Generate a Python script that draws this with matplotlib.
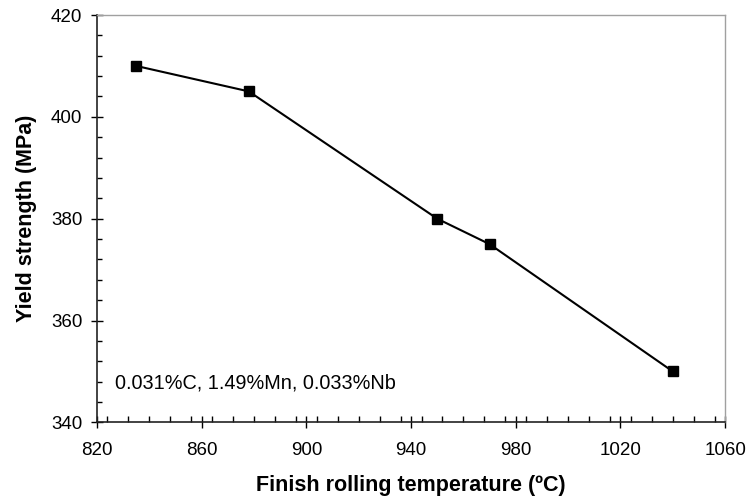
import matplotlib.pyplot as plt
from matplotlib.ticker import MultipleLocator

plt.rcParams['font.family'] = ['Liberation Sans', 'DejaVu Sans']

temperature = [835, 878, 950, 970, 1040]
yield_strength = [410, 405, 380, 375, 350]
x_ticks = [820, 860, 900, 940, 980, 1020, 1060]
y_ticks = [340, 360, 380, 400, 420]
note = "0.031%C, 1.49%Mn, 0.033%Nb"

fig = plt.figure(figsize=(7.46, 5.01), dpi=100)
ax = fig.add_axes([0.130, 0.157, 0.842, 0.813])

ax.plot(temperature, yield_strength, color='black', lw=1.5,
        marker='s', markersize=7, markerfacecolor='black', markeredgecolor='black')

ax.set_xlim(820, 1060)
ax.set_ylim(340, 420)
ax.set_xticks(x_ticks)
ax.set_yticks(y_ticks)
ax.xaxis.set_minor_locator(MultipleLocator(8))
ax.yaxis.set_minor_locator(MultipleLocator(4))

ax.tick_params(axis='x', which='major', direction='inout', length=8, width=1, labelsize=13.5, pad=10)
ax.tick_params(axis='x', which='minor', direction='in', length=4, width=1)
ax.tick_params(axis='y', which='major', direction='inout', length=9, width=1, labelsize=13.5, pad=6)
ax.tick_params(axis='y', which='minor', direction='in', length=3.5, width=1)

for s in ['left', 'bottom']:
    ax.spines[s].set_color('#222222')
    ax.spines[s].set_linewidth(1.2)
for s in ['top', 'right']:
    ax.spines[s].set_color('#a0a0a0')
    ax.spines[s].set_linewidth(1)

ax.set_xlabel("Finish rolling temperature (ºC)", fontsize=15.5, fontweight='bold', labelpad=12)
ax.set_ylabel("Yield strength (MPa)", fontsize=15.5, fontweight='bold', labelpad=10)

ax.text(827, 347.8, note, fontsize=14.3, ha='left', va='center')

fig.savefig("out.png", dpi=100)
